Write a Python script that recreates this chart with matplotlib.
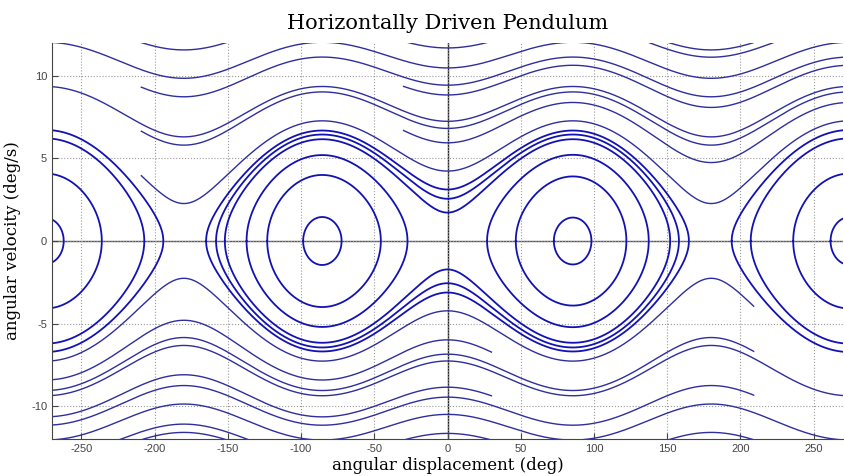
import numpy as np
import matplotlib.pyplot as plt

plt.rcParams['axes.unicode_minus'] = False

# effective potential of the horizontally driven pendulum:
#   V(th) = -cos(th) - k sin^2(th),  k = 1 / (2 cos(th_eq))
th_eq = 85.55          # stable equilibrium angle (deg)
w2 = 3.2               # scale, (deg/s)^2
k = 1.0 / (2.0 * np.cos(np.radians(th_eq)))

# rotating trajectories, upper half: velocity at +/-180 deg, drawn range
up_v180 = [9.86, 6.31, 11.58, 8.74, 5.81, 2.27]
up_start = [-270, -270, -209, -209, -209, -209]
up_end = [270, 270, 270, 270, 270, 270]
# upper half, started at -30 deg: velocity at 0 deg
up_v0 = [11.7, 8.85, 5.95]
up_v0_start = [-30, -30, -30]
up_v0_end = [270, 270, 270]

# lower half
lo_v180 = [-9.88, -6.33, -11.6, -8.76, -5.85, -2.26]
lo_start = [-270, -270, -270, -270, -270, -270]
lo_end = [270, 270, 209, 209, 209, 209]
lo_v0 = [-11.66, -8.86, -5.99]
lo_v0_start = [-270, -270, -270]
lo_v0_end = [30, 30, 30]

# closed orbits: turning angle (v = 0) and the point they circle
orb_turn = [-72.3, 72.6, -262.0, 261.5, -45.5, 46.6, -27.3, 27.0,
            -236.0, 236.0, -152.0, -158.0, -164.8, -194.0, -207.0, 194.0, 207.0]
orb_about = [-85.55, 85.55, -274.45, 274.45, -85.55, 85.55, -85.55, 85.55,
             -274.45, 274.45, 0, 0, 0, -360, -360, 360, 360]


def V(th):
    r = np.radians(th)
    return -np.cos(r) - k * np.sin(r) ** 2


def open_branch(th_ref, v_ref, a, b):
    E = v_ref ** 2 + 2 * w2 * V(th_ref)
    th = np.linspace(a, b, 3000)
    v = np.sign(v_ref) * np.sqrt(np.maximum(E - 2 * w2 * V(th), 0))
    return th, v


def closed_orbit(th_turn, th_c):
    E = 2 * w2 * V(th_turn)
    th = np.arange(-720, 720, 0.01)
    f = E - 2 * w2 * V(th)
    i = np.argmin(np.abs(th - th_c))
    lo = i
    while lo > 1 and f[lo - 1] >= 0:
        lo -= 1
    hi = i
    while hi < len(th) - 2 and f[hi + 1] >= 0:
        hi += 1
    # linear estimate of the turning points
    t_lo = th[lo] - f[lo] * (th[lo] - th[lo - 1]) / (f[lo] - f[lo - 1])
    t_hi = th[hi] + f[hi] * (th[hi + 1] - th[hi]) / (f[hi] - f[hi + 1])
    seg = th[lo:hi + 1]
    v = np.sqrt(np.maximum(f[lo:hi + 1], 0))
    x = np.concatenate([[t_lo], seg, [t_hi], seg[::-1], [t_lo]])
    y = np.concatenate([[0], v, [0], -v[::-1], [0]])
    return x, y


fig = plt.figure(figsize=(8.44, 4.76), dpi=100)
ax = fig.add_axes([52 / 844, 37 / 476, 791 / 844, 396 / 476])

blue = '#1212b4'
slate = '#2e2e9e'

for t, c in zip(orb_turn, orb_about):
    x, y = closed_orbit(t, c)
    ax.plot(x, y, color=blue, lw=1.3)

for v, a, b in zip(up_v180, up_start, up_end):
    ax.plot(*open_branch(180, v, a, b), color=slate, lw=1.0)
for v, a, b in zip(up_v0, up_v0_start, up_v0_end):
    ax.plot(*open_branch(0, v, a, b), color=slate, lw=1.0)
for v, a, b in zip(lo_v180, lo_start, lo_end):
    ax.plot(*open_branch(180, v, a, b), color=slate, lw=1.0)
for v, a, b in zip(lo_v0, lo_v0_start, lo_v0_end):
    ax.plot(*open_branch(0, v, a, b), color=slate, lw=1.0)

ax.axhline(0, color='#555555', lw=1.0, zorder=0)
ax.axvline(0, color='#222222', lw=1.0, zorder=0)

ax.set_xlim(-270, 270)
ax.set_ylim(-12, 12)
ax.set_xticks(np.arange(-250, 251, 50))
ax.set_yticks([-10, -5, 0, 5, 10])
ax.grid(True, linestyle=':', color='#999999', lw=0.8)
ax.set_axisbelow(True)
for s in ['top', 'right']:
    ax.spines[s].set_visible(False)
for s in ['left', 'bottom']:
    ax.spines[s].set_color('#444444')
ax.tick_params(direction='in', length=4, labelsize=8, labelcolor='#444444',
               color='#444444')
for lab in ax.get_xticklabels() + ax.get_yticklabels():
    lab.set_family('Liberation Sans')

ax.set_title('Horizontally Driven Pendulum', family='DejaVu Serif',
             fontsize=15, pad=10)
ax.set_xlabel('angular displacement (deg)', family='DejaVu Serif',
              fontsize=12, labelpad=2)
ax.set_ylabel('angular velocity (deg/s)', family='DejaVu Serif',
              fontsize=12, labelpad=7)

fig.savefig('out.png', dpi=100)
